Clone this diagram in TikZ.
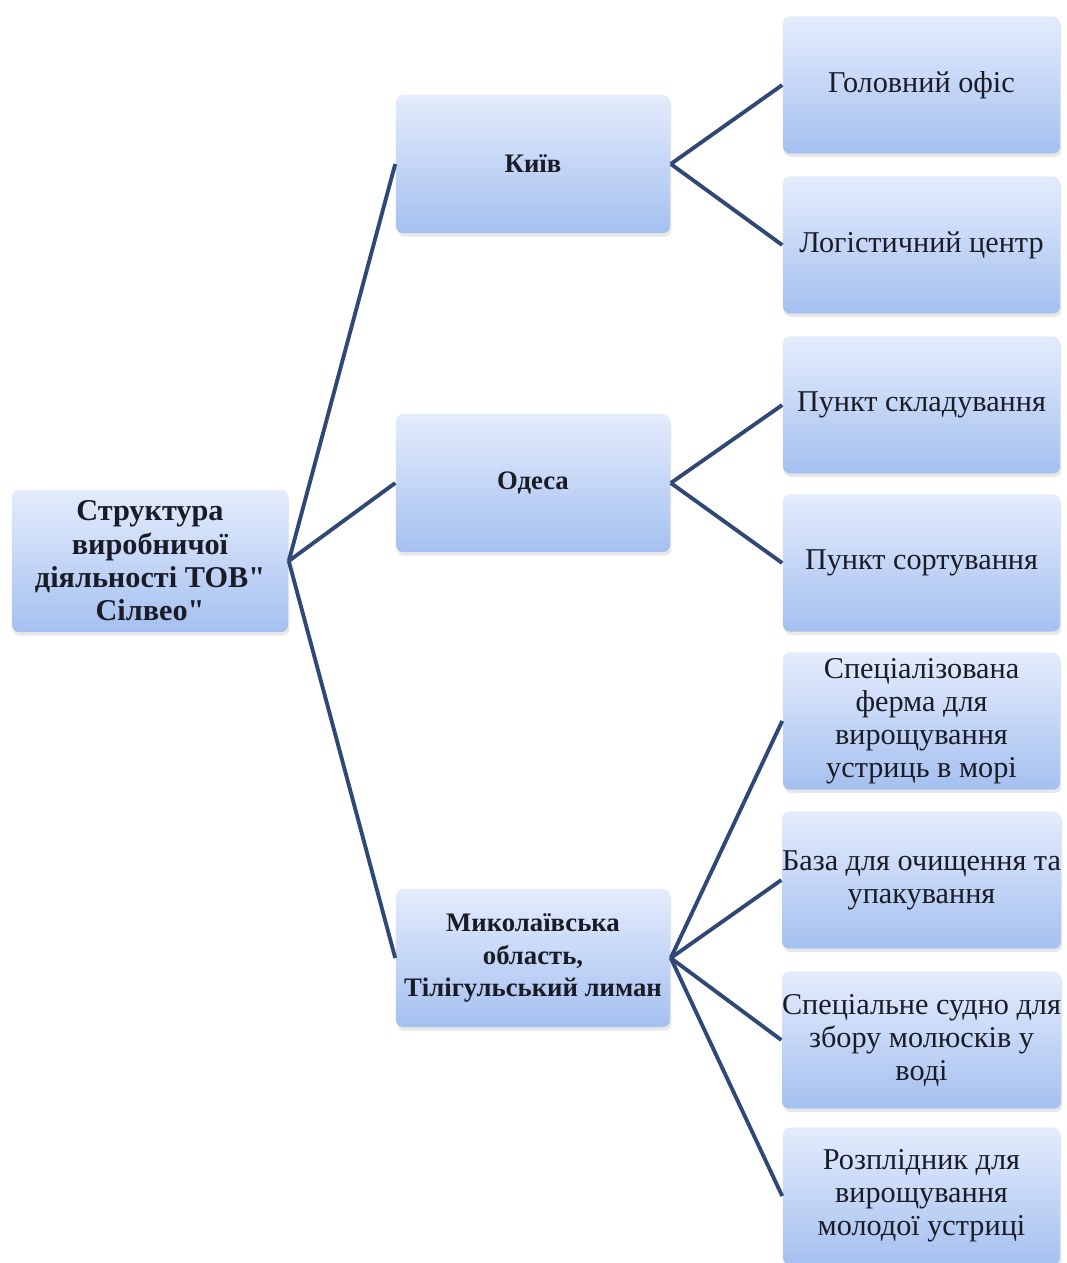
\documentclass[tikz,border=0pt]{standalone}
\usepackage{fontspec}
\setmainfont{Liberation Serif}[Ligatures=TeXOff]
\usetikzlibrary{shadows}
\begin{document}
\begin{tikzpicture}[x=0.01cm, y=-0.01cm, font=\fontsize{8.6}{9.4}\selectfont]
        % Кольори
        \definecolor{boxTop}{RGB}{228, 236, 252}
        \definecolor{boxBottom}{RGB}{165, 192, 240}
        \definecolor{lineLink}{RGB}{47, 72, 118}
        \definecolor{textDark}{RGB}{25, 28, 38}

        \tikzset{
            unit/.style={rectangle, rounded corners=2pt, draw=none,
                top color=boxTop, bottom color=boxBottom, text=textDark,
                align=center, inner xsep=0pt, inner ysep=1pt,
                drop shadow={opacity=0.18, shadow xshift=0.4pt, shadow yshift=-1pt}},
            rootbox/.style={unit, minimum width=2.76cm, minimum height=1.42cm, font=\fontsize{8.6}{9.5}\selectfont\bfseries},
            placebox/.style={unit, minimum width=2.74cm, minimum height=1.38cm, font=\fontsize{7.6}{9.3}\selectfont\bfseries},
            leafbox/.style={unit, minimum width=2.77cm, minimum height=1.37cm},
            link/.style={lineLink, line width=1.1pt}
        }

        \useasboundingbox (0,0) rectangle (1067,1263);

        % Вузли
        \node[rootbox] (root) at (150, 561)
            {Структура\\виробничої\\діяльності ТОВ"\\Сілвео"};

        \node[placebox] (kyiv)  at (533, 164) {Київ};
        \node[placebox] (odesa) at (533, 483) {Одеса};
        \node[placebox] (mykol) at (533, 958)
            {Миколаївська\\область,\\Тілігульський лиман};

        \node[leafbox] (office) at (921.5, 85)   {Головний офіс};
        \node[leafbox] (logist) at (921.5, 245)  {Логістичний центр};
        \node[leafbox] (store)  at (921.5, 405)  {Пункт складування};
        \node[leafbox] (sorter) at (921.5, 563)  {Пункт сортування};
        \node[leafbox] (farm)   at (921.5, 721)  {Спеціалізована\\ферма для\\вирощування\\устриць в морі};
        \node[leafbox] (clean)  at (921.5, 880)  {База для очищення та\\упакування};
        \node[leafbox] (ship)   at (921.5, 1040) {Спеціальне судно для\\збору молюсків у\\воді};
        \node[leafbox] (hatch)  at (921.5, 1196) {Розплідник для\\вирощування\\молодої устриці};

        % Зв'язки
        \foreach \from/\to in {root/kyiv, root/odesa, root/mykol,
            kyiv/office, kyiv/logist, odesa/store, odesa/sorter,
            mykol/farm, mykol/clean, mykol/ship, mykol/hatch}
            \draw[link] (\from.east) -- (\to.west);
    \end{tikzpicture}
\end{document}
